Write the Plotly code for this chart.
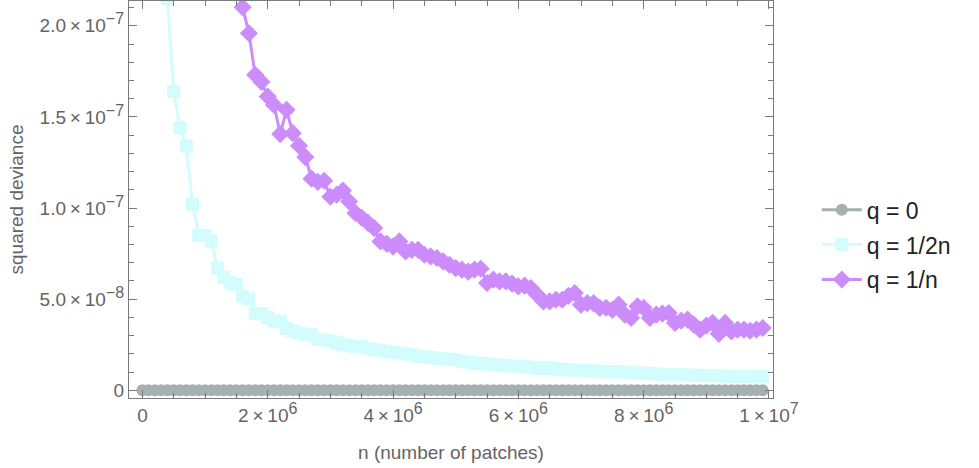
import plotly.graph_objects as go

# n grid: 0 .. 9.9e6 in steps of 1e5
n = list(range(0, 10_000_000, 100_000))

# squared deviance, in units of 1e-9
q0 = [0.0] * len(n)

n_half = n[3:]  # q = 1/2n starts at n = 3e5
q_half = [275, 215, 164, 144, 134, 102, 85, 85, 82, 67,
          62, 59, 58, 51.5, 50, 42, 42, 40, 38, 38,
          34, 32.5, 31.5, 30.5, 30.5, 28, 27.5, 27, 26, 25,
          24.5, 24, 24, 23, 22.3, 22, 21.4, 21, 20.5, 20,
          19.5, 18.6, 18.4, 18, 17.6, 17.4, 17, 16.8, 16, 15.5,
          14.8, 14.8, 14.5, 14, 13.9, 13.5, 13.2, 13, 13, 12.6,
          12, 12.4, 12.2, 11.8, 11.4, 11.3, 11, 10.9, 10.8, 10.6,
          10.4, 10.2, 10.1, 10.3, 9.9, 9.7, 9.5, 9.4, 9.3, 9.0,
          8.8, 8.7, 8.6, 8.7, 8.4, 8.3, 8.2, 8.1, 8.2, 7.9,
          7.8, 7.8, 7.7, 7.6, 7.7, 7.5, 7.6]

n_one = n[14:]  # q = 1/n starts at n = 1.4e6
q_one = [242, 222, 210.2, 195.9, 173.1, 169.2, 161.2, 156.6, 140.6, 153.9,
         141.1, 134.2, 128.0, 116.1, 114.4, 115.0, 106.2, 107.3, 109.6, 103.6,
         97.3, 94.7, 91.9, 89.0, 81.7, 80.4, 78.9, 81.7, 76.2, 77.1,
         77.1, 74.4, 73.5, 72.6, 70.7, 68.9, 67.1, 66.2, 65.1, 66.2,
         66.7, 58.9, 60.7, 59.8, 59.8, 58.5, 57.0, 57.4, 56.1, 52.5,
         48.8, 48.8, 49.7, 49.7, 51.9, 53.4, 47.0, 47.9, 47.9, 45.2,
         45.3, 44.2, 47.0, 41.5, 39.7, 46.1, 45.2, 39.7, 41.5, 42.1,
         42.4, 37.0, 38.2, 38.8, 36.0, 33.3, 35.5, 37.0, 31.0, 37.0,
         32.3, 33.3, 33.3, 32.7, 33.3, 34.2]

x_tickvals = [0, 2e6, 4e6, 6e6, 8e6, 1e7]
x_mant = ["2", "4", "6", "8", "1"]
x_exp = ["6", "6", "6", "6", "7"]
y_tickvals = [0, 5e-8, 1e-7, 1.5e-7, 2e-7]
y_mant = ["5.0", "1.0", "1.5", "2.0"]
y_exp = ["−8", "−7", "−7", "−7"]


def sci(m, e):
    return (m + "\u2009×\u200910<sup><span style='font-size:16px'>" + e
            + "</span></sup>")


x_ticktext = ["0"] + [sci(m, e) for m, e in zip(x_mant, x_exp)]
y_ticktext = ["0"] + [sci(m, e) for m, e in zip(y_mant, y_exp)]

font = "Liberation Sans, Arial, sans-serif"

fig = go.Figure()
fig.add_trace(go.Scatter(x=n, y=[v * 1e-9 for v in q0], name="q = 0",
                         mode="lines+markers", legendgroup="a",
                         line=dict(color="#a5b0b0", width=3),
                         marker=dict(symbol="circle", size=12, color="#a5b0b0")))
fig.add_trace(go.Scatter(x=n_half, y=[v * 1e-9 for v in q_half], name="q = 1/2n",
                         mode="lines+markers", legendgroup="b",
                         line=dict(color="#d3fcfc", width=3),
                         marker=dict(symbol="square", size=13, color="#d3fcfc")))
fig.add_trace(go.Scatter(x=n_one, y=[v * 1e-9 for v in q_one], name="q = 1/n",
                         mode="lines+markers", legendgroup="c",
                         line=dict(color="#cc8cfc", width=3),
                         marker=dict(symbol="diamond", size=14, color="#cc8cfc")))

axis_common = dict(showline=True, linecolor="#7a7a7a", linewidth=1.2, mirror="ticks",
                   ticks="inside", tickcolor="#7a7a7a", showgrid=False, zeroline=False,
                   automargin=False,
                   tickfont=dict(family=font, size=19, color="#646464"),
                   title_font=dict(family=font, size=19, color="#646464"))

fig.update_xaxes(range=[-0.214e6, 10.064e6], tickmode="array", tickvals=x_tickvals,
                 ticktext=x_ticktext, ticklen=8,
                 minor=dict(tickmode="linear", tick0=0, dtick=5e5, ticklen=5,
                            tickcolor="#7a7a7a", ticks="inside"),
                 title_text="n (number of patches)", title_standoff=20, **axis_common)
fig.update_yaxes(range=[-4.2e-9, 213.6e-9], tickmode="array", tickvals=y_tickvals,
                 ticktext=y_ticktext, ticklen=8,
                 minor=dict(tickmode="linear", tick0=0, dtick=1e-8, ticklen=5,
                            tickcolor="#7a7a7a", ticks="inside"),
                 title_text="squared deviance", title_standoff=10, **axis_common)

fig.update_layout(width=979, height=468, plot_bgcolor="white", paper_bgcolor="white",
                  margin=dict(l=129, r=206, t=1, b=70),
                  legend=dict(x=1.068, y=0.386, xanchor="left", yanchor="middle",
                              tracegroupgap=2, itemwidth=40,
                              font=dict(family=font, size=23, color="#222222")),
                  showlegend=True)

fig.write_html("out.html", config={"displayModeBar": False},
               post_script="document.body.style.margin='0px';")
